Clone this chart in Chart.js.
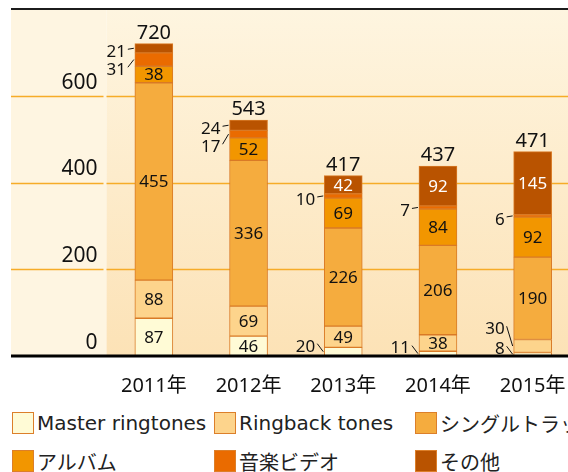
<!DOCTYPE html>
<html>
<head>
<meta charset="utf-8">
<script src="https://cdn.jsdelivr.net/npm/chart.js@4.4.0/dist/chart.umd.min.js"></script>
<style>
  html, body { margin: 0; padding: 0; background: #fff; overflow: hidden; width: 568px; height: 472px; }
  #wrap { position: relative; width: 580px; height: 472px; }
  #chart { position: absolute; left: 0; top: 0; }
  .legend { font-family: "DejaVu Sans", "Noto Sans CJK JP", sans-serif; font-size: 20px; color: #222; white-space: nowrap; }
  .item { position: absolute; display: flex; align-items: center; height: 24px; }
  .sw { width: 22px; height: 22px; border: 1px solid #DC7F2A; margin-right: 3px; box-sizing: border-box; }
</style>
</head>
<body>
<div id="wrap">
  <canvas id="chart" width="580" height="400"></canvas>
  <div class="legend" id="legend"></div>
</div>
<script>
const years = ["2011年", "2012年", "2013年", "2014年", "2015年"];
const seriesNames = ["Master ringtones", "Ringback tones", "シングルトラック", "アルバム", "音楽ビデオ", "その他"];
const masterRingtones = [87, 46, 20, 11, 8];
const ringbackTones = [88, 69, 49, 38, 30];
const singleTracks = [455, 336, 226, 206, 190];
const albums = [38, 52, 69, 84, 92];
const musicVideos = [31, 17, 10, 7, 6];
const others = [21, 24, 42, 92, 145];
const totals = [720, 543, 417, 437, 471];
const yTicks = [0, 200, 400, 600];

const colors = ["#FFFBD6", "#FDD48C", "#F5AC3E", "#F29600", "#EA6B00", "#B95300"];
const border = "#D97A26";
const FONT = '"Noto Sans", "Noto Sans CJK JP", sans-serif';

// background + grid go under the scales, labels go over the bars
const decor = {
  id: "decor",
  beforeDraw(chart) {
    const { ctx, chartArea: a } = chart;
    const y = chart.scales.y;
    ctx.save();
    ctx.fillStyle = "#FEF5E1";
    ctx.fillRect(11, a.top, a.left - 11, a.bottom - a.top);
    const g = ctx.createLinearGradient(0, a.top, 0, a.bottom);
    g.addColorStop(0, "#FEF5E0");
    g.addColorStop(1, "#FCE2B6");
    ctx.fillStyle = g;
    ctx.fillRect(a.left, a.top, a.right - a.left, a.bottom - a.top);

    ctx.strokeStyle = "#F6AC28";
    ctx.lineWidth = 1.5;
    yTicks.forEach(v => {
      if (v === 0) return;
      const py = Math.round(y.getPixelForValue(v)) + 0.5;
      ctx.beginPath();
      ctx.moveTo(11, py); ctx.lineTo(a.left - 3, py);
      ctx.moveTo(a.left, py); ctx.lineTo(a.right, py);
      ctx.stroke();
    });
    ctx.restore();
  },
  afterDatasetsDraw(chart) {
    const { ctx, chartArea: a } = chart;
    const y = chart.scales.y;
    const n = chart.data.datasets.length;
    ctx.save();

    years.forEach((_, i) => {
      const segs = [];
      for (let d = 0; d < n; d++) {
        const bar = chart.getDatasetMeta(d).data[i];
        const p = bar.getProps(["x", "y", "base", "width"], true);
        segs.push({ d, v: chart.data.datasets[d].data[i], x: p.x, top: p.y, base: p.base, w: p.width, mid: (p.y + p.base) / 2 });
      }
      const outside = [];
      segs.forEach(s => {
        if (s.base - s.top >= 15) {
          ctx.font = "17px " + FONT;
          ctx.fillStyle = s.d === 5 ? "#fff" : "#111";
          ctx.textBaseline = "middle";
          ctx.textAlign = "center";
          ctx.fillText(s.v, s.x, s.mid + 1);
        } else {
          outside.push(s);
        }
      });

      // small segments: labels to the left with leader lines
      ctx.font = "17px " + FONT;
      ctx.fillStyle = "#111";
      ctx.strokeStyle = "#111";
      ctx.lineWidth = 1;
      ctx.textBaseline = "middle";
      const drawOut = (s, ly) => {
        const left = s.x - s.w / 2;
        ctx.textAlign = "right";
        ctx.fillText(s.v, left - 9, ly);
        ctx.beginPath();
        ctx.moveTo(left - 7, ly - 3);
        ctx.lineTo(left - 1, s.mid);
        ctx.stroke();
      };
      let prev = Infinity;
      outside.filter(s => s.d <= 2).forEach(s => {
        const ly = Math.min(s.mid - 5, prev - 20);
        drawOut(s, ly);
        prev = ly;
      });
      prev = -Infinity;
      outside.filter(s => s.d > 2).reverse().forEach(s => {
        const ly = Math.max(s.mid + 4, prev + 18);
        drawOut(s, ly);
        prev = ly;
      });

      // total
      const topSeg = segs[n - 1];
      ctx.textAlign = "center";
      ctx.textBaseline = "alphabetic";
      ctx.font = "20px " + FONT;
      ctx.fillStyle = "#111";
      ctx.fillText(totals[i], topSeg.x, topSeg.top - 5);
    });

    // frame lines
    ctx.strokeStyle = "#1c1c1c";
    ctx.lineWidth = 2;
    ctx.beginPath();
    ctx.moveTo(11, a.top); ctx.lineTo(a.right, a.top);
    ctx.stroke();
    const by = y.getPixelForValue(0);
    ctx.strokeStyle = "#000";
    ctx.lineWidth = 3;
    ctx.beginPath();
    ctx.moveTo(11, by); ctx.lineTo(a.right, by);
    ctx.stroke();
    ctx.restore();
  }
};

const seriesData = [masterRingtones, ringbackTones, singleTracks, albums, musicVideos, others];

new Chart(document.getElementById("chart"), {
  type: "bar",
  data: {
    labels: years,
    datasets: seriesData.map((data, k) => ({
      label: seriesNames[k],
      data,
      backgroundColor: colors[k],
      borderColor: border,
      borderWidth: 1,
      borderSkipped: false,
      barThickness: 38
    }))
  },
  options: {
    responsive: false,
    animation: false,
    devicePixelRatio: 1,
    layout: { padding: { left: 11, top: 9, right: 0, bottom: 0 } },
    plugins: { legend: { display: false }, tooltip: { enabled: false } },
    scales: {
      x: {
        stacked: true,
        grid: { display: false },
        border: { display: false },
        ticks: { color: "#111", font: { family: FONT, size: 20 }, padding: 10 },
        afterFit(s) { s.height = 44; s.paddingLeft = 0; s.paddingRight = 0; }
      },
      y: {
        stacked: true,
        min: 0,
        max: 800,
        grid: { display: false },
        border: { display: false },
        ticks: {
          stepSize: 200,
          color: "#111",
          font: { family: FONT, size: 21 },
          padding: 1,
          labelOffset: -13,
          callback: v => yTicks.includes(v) ? v : ""
        },
        afterFit(s) { s.width = 95.5; s.paddingTop = 0; s.paddingBottom = 0; }
      }
    }
  },
  plugins: [decor]
});

// legend
const legendPos = [[12, 411], [214, 411], [415, 411], [12, 449], [214, 449], [415, 449]];
const lg = document.getElementById("legend");
seriesNames.forEach((name, k) => {
  const it = document.createElement("div");
  it.className = "item";
  it.style.left = legendPos[k][0] + "px";
  it.style.top = legendPos[k][1] + "px";
  it.innerHTML = '<span class="sw" style="background:' + colors[k] + '"></span><span>' + name + '</span>';
  lg.appendChild(it);
});
</script>
</body>
</html>
